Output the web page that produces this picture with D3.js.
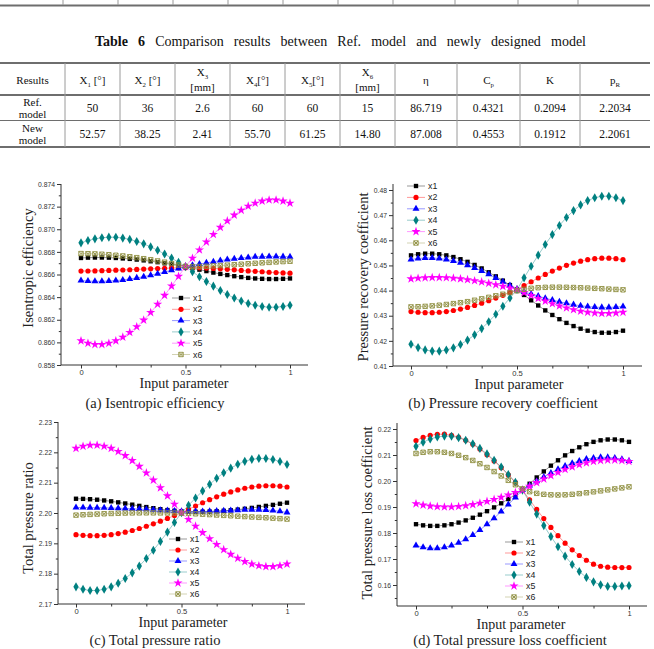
<!DOCTYPE html>
<html><head><meta charset="utf-8">
<script src="https://cdn.jsdelivr.net/npm/d3@7"></script>
<style>body{margin:0;background:#fff}svg{display:block}</style>
</head><body><svg id="c" width="654" height="649"></svg>
<script>
// ---------- data ----------
const inputParam = d3.range(31).map(i => i / 30);
const seriesNames = ["x1", "x2", "x3", "x4", "x5", "x6"];
const seriesColors = ["#000000", "#ff0000", "#0000ff", "#008080", "#ff00ff", "#8f8f40"];

const etaX1 = [0.86746,0.86749,0.86750,0.86750,0.86749,0.86746,0.86742,0.86738,0.86732,0.86725,0.86717,0.86709,0.86699,0.86690,0.86680,0.86670,0.86656,0.86643,0.86630,0.86617,0.86605,0.86595,0.86585,0.86577,0.86570,0.86565,0.86562,0.86560,0.86560,0.86562,0.86565];
const etaX2 = [0.86630,0.86631,0.86632,0.86634,0.86636,0.86638,0.86640,0.86642,0.86645,0.86648,0.86650,0.86653,0.86655,0.86657,0.86659,0.86660,0.86660,0.86659,0.86657,0.86654,0.86650,0.86646,0.86641,0.86636,0.86632,0.86628,0.86624,0.86620,0.86617,0.86614,0.86612];
const etaX3 = [0.86546,0.86542,0.86540,0.86540,0.86542,0.86546,0.86552,0.86560,0.86570,0.86581,0.86594,0.86607,0.86622,0.86638,0.86654,0.86670,0.86681,0.86692,0.86703,0.86713,0.86723,0.86732,0.86739,0.86746,0.86751,0.86756,0.86758,0.86760,0.86760,0.86758,0.86756];
const etaX4 = [0.86880,0.86900,0.86915,0.86925,0.86930,0.86929,0.86922,0.86910,0.86892,0.86871,0.86844,0.86814,0.86781,0.86745,0.86708,0.86670,0.86625,0.86580,0.86538,0.86497,0.86458,0.86423,0.86392,0.86366,0.86344,0.86328,0.86317,0.86311,0.86311,0.86317,0.86328];
const etaX5 = [0.86014,0.85992,0.85981,0.85981,0.85992,0.86014,0.86046,0.86088,0.86138,0.86197,0.86264,0.86337,0.86416,0.86498,0.86584,0.86670,0.86744,0.86817,0.86887,0.86954,0.87017,0.87074,0.87125,0.87168,0.87204,0.87231,0.87249,0.87259,0.87259,0.87249,0.87231];
const etaX6 = [0.86785,0.86784,0.86782,0.86779,0.86775,0.86770,0.86764,0.86757,0.86749,0.86740,0.86731,0.86720,0.86709,0.86697,0.86684,0.86672,0.86670,0.86671,0.86673,0.86676,0.86679,0.86683,0.86687,0.86691,0.86695,0.86699,0.86703,0.86707,0.86711,0.86714,0.86717];

const cpX1 = [0.45400,0.45444,0.45467,0.45467,0.45444,0.45400,0.45334,0.45247,0.45143,0.45020,0.44881,0.44729,0.44566,0.44396,0.44219,0.44040,0.43825,0.43612,0.43407,0.43211,0.43029,0.42862,0.42714,0.42588,0.42483,0.42404,0.42351,0.42323,0.42323,0.42351,0.42404];
const cpX2 = [0.43165,0.43137,0.43122,0.43122,0.43137,0.43165,0.43207,0.43264,0.43331,0.43410,0.43499,0.43597,0.43701,0.43811,0.43925,0.44040,0.44196,0.44351,0.44500,0.44643,0.44775,0.44896,0.45004,0.45095,0.45171,0.45229,0.45268,0.45288,0.45288,0.45268,0.45229];
const cpX3 = [0.45238,0.45277,0.45298,0.45298,0.45277,0.45238,0.45180,0.45103,0.45012,0.44903,0.44781,0.44647,0.44504,0.44354,0.44198,0.44040,0.43951,0.43863,0.43779,0.43698,0.43623,0.43554,0.43493,0.43441,0.43397,0.43365,0.43343,0.43331,0.43331,0.43343,0.43365];
const cpX4 = [0.41864,0.41732,0.41639,0.41592,0.41590,0.41634,0.41722,0.41857,0.42031,0.42239,0.42487,0.42761,0.43058,0.43376,0.43704,0.44040,0.44505,0.44966,0.45409,0.45833,0.46227,0.46588,0.46908,0.47180,0.47407,0.47578,0.47693,0.47753,0.47753,0.47693,0.47578];
const cpX5 = [0.44466,0.44492,0.44510,0.44520,0.44520,0.44511,0.44494,0.44468,0.44434,0.44393,0.44344,0.44291,0.44232,0.44170,0.44106,0.44040,0.43921,0.43803,0.43690,0.43582,0.43481,0.43389,0.43308,0.43238,0.43180,0.43137,0.43107,0.43092,0.43092,0.43107,0.43137];
const cpX6 = [0.43350,0.43358,0.43372,0.43392,0.43418,0.43448,0.43482,0.43520,0.43560,0.43615,0.43672,0.43731,0.43792,0.43855,0.43920,0.43990,0.44050,0.44090,0.44115,0.44128,0.44134,0.44135,0.44130,0.44122,0.44112,0.44100,0.44088,0.44075,0.44060,0.44045,0.44030];

const prX1 = [2.20470,2.20466,2.20455,2.20438,2.20414,2.20385,2.20351,2.20314,2.20275,2.20235,2.20196,2.20159,2.20125,2.20096,2.20072,2.20055,2.20044,2.20040,2.20042,2.20048,2.20058,2.20072,2.20090,2.20112,2.20138,2.20168,2.20200,2.20235,2.20268,2.20305,2.20340];
const prX2 = [2.19287,2.19264,2.19252,2.19252,2.19264,2.19287,2.19322,2.19369,2.19424,2.19489,2.19563,2.19644,2.19730,2.19821,2.19915,2.20010,2.20121,2.20232,2.20338,2.20439,2.20533,2.20620,2.20696,2.20761,2.20816,2.20856,2.20884,2.20898,2.20898,2.20884,2.20856];
const prX3 = [2.20180,2.20179,2.20177,2.20174,2.20170,2.20165,2.20158,2.20150,2.20141,2.20131,2.20120,2.20108,2.20094,2.20080,2.20068,2.20058,2.20052,2.20050,2.20051,2.20055,2.20062,2.20071,2.20082,2.20094,2.20104,2.20110,2.20110,2.20100,2.20082,2.20055,2.20020];
const prX4 = [2.17566,2.17486,2.17445,2.17445,2.17486,2.17566,2.17684,2.17841,2.18028,2.18250,2.18499,2.18771,2.19064,2.19370,2.19689,2.20010,2.20255,2.20495,2.20728,2.20944,2.21145,2.21326,2.21478,2.21605,2.21703,2.21768,2.21800,2.21798,2.21764,2.21696,2.21600];
const prX5 = [2.22131,2.22200,2.22236,2.22236,2.22200,2.22131,2.22028,2.21892,2.21729,2.21538,2.21321,2.21085,2.20831,2.20565,2.20289,2.20010,2.19788,2.19567,2.19355,2.19152,2.18963,2.18791,2.18638,2.18508,2.18399,2.18317,2.18262,2.18234,2.18234,2.18262,2.18317];
const prX6 = [2.19930,2.19942,2.19954,2.19965,2.19975,2.19984,2.19992,2.19998,2.20002,2.20004,2.20005,2.20004,2.20003,2.20001,2.19999,2.19996,2.19985,2.19973,2.19960,2.19947,2.19934,2.19921,2.19908,2.19895,2.19882,2.19869,2.19856,2.19843,2.19830,2.19815,2.19800];

const kX1 = [0.18338,0.18295,0.18273,0.18273,0.18295,0.18338,0.18401,0.18485,0.18586,0.18705,0.18839,0.18985,0.19142,0.19306,0.19478,0.19650,0.19894,0.20136,0.20368,0.20590,0.20797,0.20986,0.21153,0.21296,0.21415,0.21505,0.21565,0.21596,0.21596,0.21565,0.21505];
const kX2 = [0.21559,0.21675,0.21757,0.21798,0.21800,0.21761,0.21684,0.21566,0.21413,0.21230,0.21013,0.20772,0.20512,0.20233,0.19945,0.19650,0.19278,0.18908,0.18553,0.18214,0.17898,0.17609,0.17352,0.17135,0.16953,0.16800,0.16720,0.16685,0.16672,0.16670,0.16672];
const kX3 = [0.17520,0.17450,0.17415,0.17415,0.17450,0.17520,0.17623,0.17759,0.17923,0.18116,0.18333,0.18570,0.18826,0.19092,0.19370,0.19650,0.19823,0.19992,0.20155,0.20308,0.20449,0.20576,0.20683,0.20773,0.20842,0.20887,0.20910,0.20909,0.20885,0.20837,0.20769];
const kX4 = [0.21333,0.21493,0.21614,0.21693,0.21728,0.21720,0.21666,0.21568,0.21428,0.21254,0.21042,0.20800,0.20536,0.20251,0.19954,0.19650,0.19186,0.18726,0.18285,0.17862,0.17469,0.17109,0.16790,0.16519,0.16292,0.16122,0.16007,0.15947,0.15947,0.15960,0.15975];
const kX5 = [0.19124,0.19074,0.19036,0.19012,0.19001,0.19003,0.19020,0.19051,0.19094,0.19149,0.19215,0.19291,0.19373,0.19462,0.19555,0.19650,0.19795,0.19939,0.20077,0.20209,0.20332,0.20445,0.20544,0.20629,0.20700,0.20753,0.20789,0.20808,0.20808,0.20789,0.20753];
const kX6 = [0.21058,0.21103,0.21127,0.21127,0.21103,0.21058,0.20989,0.20899,0.20791,0.20664,0.20520,0.20363,0.20195,0.20025,0.19855,0.19700,0.19590,0.19525,0.19488,0.19468,0.19462,0.19468,0.19488,0.19515,0.19548,0.19583,0.19620,0.19658,0.19696,0.19735,0.19775];

const xTicks = [0, 0.5, 1];
const xTickLabels = ["0", "0.5", "1"];
const etaTicks = [0.858,0.860,0.862,0.864,0.866,0.868,0.870,0.872,0.874];
const cpTicks = [0.41,0.42,0.43,0.44,0.45,0.46,0.47,0.48];
const prTicks = [2.17,2.18,2.19,2.20,2.21,2.22,2.23];
const kTicks = [0.16,0.17,0.18,0.19,0.20,0.21,0.22];

const tableHeader = [["Results"],["X","1"," [°]"],["X","2"," [°]"],["X","3","","[mm]"],["X","4","[°]"],["X","5","[°]"],["X","6","","[mm]"],["η"],["C","p",""],["K"],["p","R",""]];
const tableRowLabels = [["Ref.","model"],["New","model"]];
const refModel = ["50","36","2.6","60","60","15","86.719","0.4321","0.2094","2.2034"];
const newModel = ["52.57","38.25","2.41","55.70","61.25","14.80","87.008","0.4553","0.1912","2.2061"];
const titleWords = ["Table","6","Comparison","results","between","Ref.","model","and","newly","designed","model"];

// ---------- drawing ----------
const svg = d3.select("#c");
const SERIF = "'Liberation Serif','Times New Roman',serif";
const SANS = "'Liberation Sans',Arial,sans-serif";

// ----- table -----
const colX = [0,65,120,175,230,285,340,395,457,520,580,650];
const lineCol = "#6e6e6e";
svg.append("line").attr("x1",0).attr("x2",650).attr("y1",5.5).attr("y2",5.5).attr("stroke",lineCol).attr("stroke-width",2);
colX.slice(1,-1).forEach(cx => svg.append("line").attr("x1",cx-2).attr("x2",cx-2).attr("y1",0).attr("y2",5).attr("stroke","#999").attr("stroke-width",1));

(function(){
  const g = svg.append("g");
  const ts = titleWords.map((w,i) => g.append("text").text(w).attr("y",46)
      .attr("font-family",SERIF).attr("font-size",14).attr("font-weight", i<2 ? "bold" : "normal").attr("fill","#111"));
  const widths = ts.map(t => t.node().getComputedTextLength());
  const left = 95, right = 586;
  const gap = (right-left-d3.sum(widths))/(ts.length-1);
  let cx = left;
  ts.forEach((t,i) => { t.attr("x",cx); cx += widths[i] + gap; });
})();

const tTop = 63, tHead = 95, tMid = 120.5, tBot = 147;
[[tTop,2],[tHead,2],[tMid,1],[tBot,2]].forEach(([yy,w]) =>
  svg.append("line").attr("x1",0).attr("x2",650).attr("y1",yy).attr("y2",yy).attr("stroke",lineCol).attr("stroke-width",w));
colX.slice(1,-1).forEach(cx => svg.append("line").attr("x1",cx).attr("x2",cx).attr("y1",tTop).attr("y2",tBot).attr("stroke","#9a9a9a").attr("stroke-width",1));

function cellText(cx, y, parts, size){
  const t = svg.append("text").attr("x",cx).attr("y",y).attr("text-anchor","middle")
    .attr("font-family",SERIF).attr("font-size",size).attr("fill","#111");
  t.append("tspan").text(parts[0]);
  if (parts.length > 1) {
    t.append("tspan").text(parts[1]).attr("font-size",size*0.62).attr("dy",2.5);
    if (parts[2]) t.append("tspan").text(parts[2]).attr("dy",-2.5);
  }
  return t;
}
tableHeader.forEach((h,i) => {
  const cx = (colX[i]+colX[i+1])/2;
  if (h.length === 4) {
    cellText(cx, 76, [h[0],h[1]], 11);
    cellText(cx, 91, [h[3]], 11);
  } else {
    cellText(cx, 84, h, 11);
  }
});
[[refModel,tableRowLabels[0],tHead],[newModel,tableRowLabels[1],tMid]].forEach(([vals,lab,top]) => {
  const cx0 = colX[0]/2 + colX[1]/2;
  cellText(cx0, top+11, [lab[0]], 11);
  cellText(cx0, top+23, [lab[1]], 11);
  vals.forEach((v,i) => cellText((colX[i+1]+colX[i+2])/2, top+17, [v], 11.5));
});

// ----- panels -----
const panels = [
  { data:[etaX1,etaX2,etaX3,etaX4,etaX5,etaX6], x0:81, x1:290, axisX:61, axisY:365, axisR:308,
    yDomain:[0.858,0.874], yRange:[365,184], yTop:184, ticks:etaTicks, minorStep:0.001, fmt:".3f",
    yTitle:"Isentropic efficiency", yTitleX:28, yTitleY:268, xTitleX:184, caption:"(a) Isentropic efficiency", capX:155, capY:408,
    legX:181, legY:298, legDy:11.3 },
  { data:[cpX1,cpX2,cpX3,cpX4,cpX5,cpX6], x0:411, x1:623, axisX:393, axisY:366, axisR:642,
    yDomain:[0.41,0.48], yRange:[366,190], yTop:184, ticks:cpTicks, minorStep:0.005, fmt:".2f",
    yTitle:"Pressure recovery coefficient", yTitleX:363, yTitleY:277, xTitleX:519, caption:"(b) Pressure recovery coefficient", capX:503, capY:408,
    legX:416, legY:186, legDy:11.4 },
  { data:[prX1,prX2,prX3,prX4,prX5,prX6], x0:76, x1:287, axisX:58, axisY:604, axisR:305,
    yDomain:[2.17,2.23], yRange:[604,422], yTop:422, ticks:prTicks, minorStep:0.005, fmt:".2f",
    yTitle:"Total pressure ratio", yTitleX:28, yTitleY:518, xTitleX:183, caption:"(c) Total pressure ratio", capX:155, capY:645,
    legX:178, legY:539, legDy:11 },
  { data:[kX1,kX2,kX3,kX4,kX5,kX6], x0:416, x1:629, axisX:397, axisY:606, axisR:647,
    yDomain:[0.16,0.22], yRange:[585,429], yTop:423, ticks:kTicks, minorStep:0.005, fmt:".2f",
    yTitle:"Total pressure loss coefficient", yTitleX:367, yTitleY:513, xTitleX:521, caption:"(d) Total pressure loss coefficient", capX:510, capY:645,
    legX:514, legY:542, legDy:11 }
];

const symTypes = [d3.symbolSquare, d3.symbolCircle, d3.symbolTriangle, d3.symbolDiamond, d3.symbolStar];
const symSizes = [19, 21, 21, 24, 26];
function addMarker(sel, k){
  if (k < 5) {
    sel.append("path").attr("d", d3.symbol(symTypes[k], symSizes[k])()).attr("fill", seriesColors[k]);
  } else {
    sel.append("path").attr("d","M-2.2,-2.2H2.2V2.2H-2.2Z M-2.2,-2.2L2.2,2.2 M2.2,-2.2L-2.2,2.2")
      .attr("fill","none").attr("stroke", seriesColors[k]).attr("stroke-width",0.9);
  }
}

panels.forEach(p => {
  const g = svg.append("g");
  const x = d3.scaleLinear().domain([0,1]).range([p.x0,p.x1]);
  const y = d3.scaleLinear().domain(p.yDomain).range(p.yRange);
  const yBottomVal = y.invert(p.axisY), yTopVal = y.invert(p.yTop);

  g.append("line").attr("x1",p.axisX).attr("x2",p.axisX).attr("y1",p.axisY).attr("y2",p.yTop).attr("stroke","#333").attr("stroke-width",1);
  g.append("line").attr("x1",p.axisX).attr("x2",p.axisR).attr("y1",p.axisY).attr("y2",p.axisY).attr("stroke","#333").attr("stroke-width",1);

  const yg = g.append("g").attr("transform",`translate(${p.axisX},0)`)
    .call(d3.axisLeft(y).tickValues(p.ticks).tickFormat(d3.format(p.fmt)).tickSize(4).tickPadding(2));
  yg.select(".domain").remove();
  yg.selectAll("line").attr("stroke","#333");
  yg.selectAll("text").attr("font-family",SANS).attr("font-size",6.8).attr("fill","#333");
  const minorY = d3.range(Math.ceil(yBottomVal/p.minorStep - 1e-6), Math.floor(yTopVal/p.minorStep + 1e-6)+1)
    .map(i => i*p.minorStep).filter(v => !p.ticks.some(t => Math.abs(t-v) < 1e-9));
  const ymg = g.append("g").attr("transform",`translate(${p.axisX},0)`)
    .call(d3.axisLeft(y).tickValues(minorY).tickFormat("").tickSize(2.2));
  ymg.select(".domain").remove();
  ymg.selectAll("line").attr("stroke","#333");

  const xg = g.append("g").attr("transform",`translate(0,${p.axisY})`)
    .call(d3.axisBottom(x).tickValues(xTicks).tickFormat((d,i) => xTickLabels[i]).tickSize(3.5).tickPadding(1));
  xg.select(".domain").remove();
  xg.selectAll("line").attr("stroke","#333");
  xg.selectAll("text").attr("font-family",SANS).attr("font-size",7.6).attr("fill","#333");
  const xmg = g.append("g").attr("transform",`translate(0,${p.axisY})`)
    .call(d3.axisBottom(x).tickValues([1/6,1/3,2/3,5/6]).tickFormat("").tickSize(2.5));
  xmg.select(".domain").remove();
  xmg.selectAll("line").attr("stroke","#333");

  p.data.forEach((vals,k) => {
    const line = d3.line().x((d,i) => x(inputParam[i])).y(d => y(d));
    g.append("path").attr("d", line(vals)).attr("fill","none").attr("stroke",seriesColors[k]).attr("stroke-width",0.7).attr("stroke-opacity",0.6);
    const mg = g.append("g");
    vals.forEach((v,i) => {
      const m = mg.append("g").attr("transform",`translate(${x(inputParam[i])},${y(v)})`);
      addMarker(m,k);
    });
  });

  seriesNames.forEach((nm,k) => {
    const ly = p.legY + k*p.legDy;
    g.append("line").attr("x1",p.legX-9).attr("x2",p.legX+9).attr("y1",ly).attr("y2",ly)
      .attr("stroke",seriesColors[k]).attr("stroke-opacity",0.45).attr("stroke-width",0.9);
    const m = g.append("g").attr("transform",`translate(${p.legX},${ly})`);
    addMarker(m,k);
    g.append("text").attr("x",p.legX+12).attr("y",ly+3).text(nm)
      .attr("font-family",SANS).attr("font-size",8.8).attr("fill","#222");
  });

  g.append("text").attr("transform",`translate(${p.yTitleX},${p.yTitleY}) rotate(-90)`).attr("text-anchor","middle")
    .attr("dy","0.35em").text(p.yTitle).attr("font-family",SERIF).attr("font-size",14.5).attr("fill","#222");
  g.append("text").attr("x",p.xTitleX).attr("y",p.axisY+23).attr("text-anchor","middle").text("Input parameter")
    .attr("font-family",SERIF).attr("font-size",14).attr("fill","#222");
  g.append("text").attr("x",p.capX).attr("y",p.capY).attr("text-anchor","middle").text(p.caption)
    .attr("font-family",SERIF).attr("font-size",14.5).attr("fill","#222");
});
</script>
</body></html>
